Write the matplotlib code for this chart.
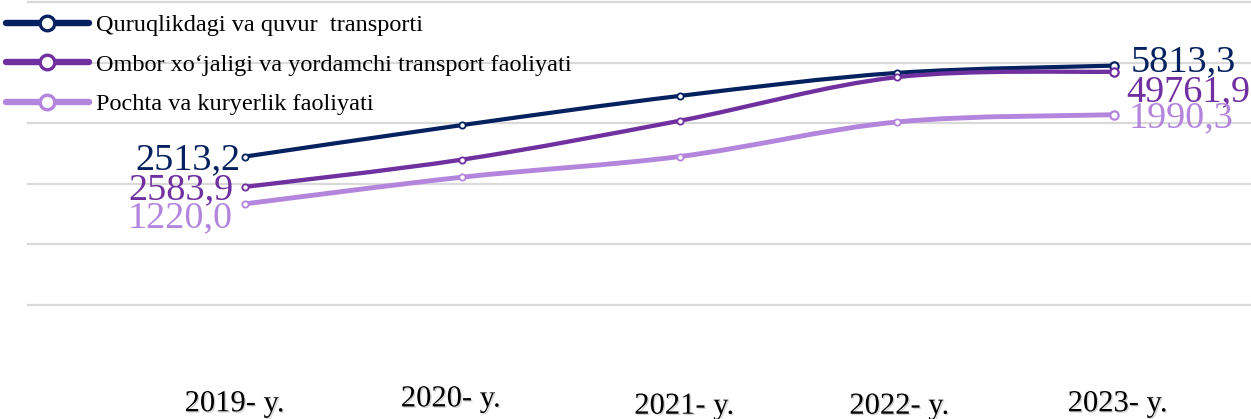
import numpy as np
import matplotlib
matplotlib.use("Agg")
import matplotlib.pyplot as plt
from matplotlib.path import Path
from matplotlib.patches import PathPatch
from matplotlib.lines import Line2D
import matplotlib.patheffects as pe

plt.rcParams['font.family'] = ['Liberation Serif', 'DejaVu Serif']

# categories and series (plotted levels, grid step = 1)
years = ['2019- y.', '2020- y.', '2021- y.', '2022- y.', '2023- y.']
series_names = ['Quruqlikdagi va quvur  transporti',
                'Ombor xo\u2018jaligi va yordamchi transport faoliyati',
                'Pochta va kuryerlik faoliyati']
quruqlik = [2.45, 2.97, 3.45, 3.83, 3.95]
ombor = [1.95, 2.40, 3.04, 3.76, 3.85]
pochta = [1.67, 2.11, 2.45, 3.02, 3.14]
# printed data labels (first and last year)
first_labels = ['2513,2', '2583,9', '1220,0']
last_labels = ['5813,3', '49761,9', '1990,3']

colors = ['#06215f', '#7030a0', '#b385dd']

W, H = 1251, 419
fig = plt.figure(figsize=(W / 100, H / 100), dpi=100)
ax = fig.add_axes([28 / W, 114 / H, 1223 / W, 303 / H])
ax.set_xlim(-1, 4.63)
ax.set_ylim(0, 5)
for s in ax.spines.values():
    s.set_visible(False)
ax.set_xticks([])
ax.set_yticks([])
for g in range(6):
    ax.axhline(g, color='#d9d9d9', lw=1.6, clip_on=False, zorder=0)


def smooth_path(xs, ys):
    # catmull-rom style bezier through the points (like excel smoothed lines)
    pts = np.column_stack([xs, ys]).astype(float)
    ext = np.vstack([pts[0], pts, pts[-1]])
    verts = [pts[0]]
    codes = [Path.MOVETO]
    for i in range(len(pts) - 1):
        p0, p1, p2, p3 = ext[i], ext[i + 1], ext[i + 2], ext[i + 3]
        verts += [p1 + (p2 - p0) / 6, p2 - (p3 - p1) / 6, p2]
        codes += [Path.CURVE4] * 3
    return Path(verts, codes)


x = np.arange(len(years))
all_series = [quruqlik, ombor, pochta]
widths = [3.0, 3.1, 3.5]
for vals, col, lw in zip(all_series, colors, widths):
    ax.add_patch(PathPatch(smooth_path(x, vals), fill=False, edgecolor=col,
                           lw=lw, capstyle='round', zorder=3))
    ax.plot(x, vals, 'o', ls='none', ms=4.5, mfc='white', mec=col, mew=1.3, zorder=4)
    ax.plot(x[-1], vals[-1], 'o', ls='none', ms=6, mfc='white', mec=col, mew=1.6, zorder=5)

# data labels
left_off = [(-5, -3), (-12, -3), (-12, -14)]
right_off = [(16, 4), (12, -20), (14, -3)]
for vals, col, lab, off in zip(all_series, colors, first_labels, left_off):
    ax.annotate(lab, (x[0], vals[0]), xytext=off, textcoords='offset pixels',
                ha='right', va='center', fontsize=27.5, color=col, zorder=6)
for vals, col, lab, off in zip(all_series, colors, last_labels, right_off):
    ax.annotate(lab, (x[-1], vals[-1]), xytext=off, textcoords='offset pixels',
                ha='left', va='center', fontsize=27.5, color=col, zorder=6)

# category labels (staggered like the original)
label_dx = [-0.05, -0.055, 0.02, 0.01, 0.015]
label_y = [-1.63, -1.55, -1.67, -1.67, -1.63]
shadow = [pe.withSimplePatchShadow(offset=(1, -1), shadow_rgbFace='#888888', alpha=0.35)]
for i, lab in enumerate(years):
    ax.text(x[i] + label_dx[i], label_y[i], lab, ha='center', va='center',
            fontsize=22, color='black', clip_on=False, path_effects=shadow)

handles = [Line2D([], [], color=c, lw=4.6, marker='o', ms=10.5, mfc='white',
                  mec=c, mew=2.4, solid_capstyle='round') for c in colors]
fig.legend(handles, series_names, loc='upper left', bbox_to_anchor=(6 / W, 1 - 14 / H),
           frameon=False, fontsize=17.5, handlelength=3.4, handletextpad=0.3,
           labelspacing=0.72, borderpad=0, borderaxespad=0)

fig.savefig('out.png', dpi=100, facecolor='white')
